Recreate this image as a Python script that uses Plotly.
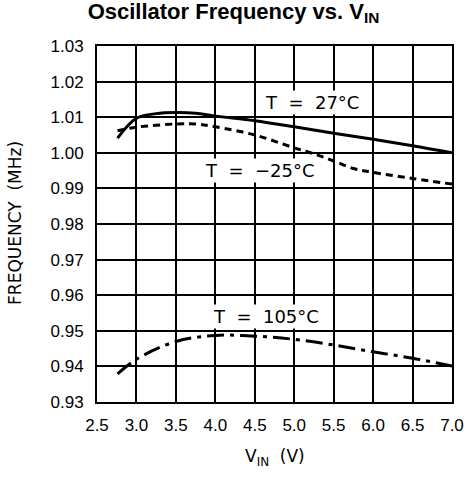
import plotly.graph_objects as go

# Data
v_27 = [2.76, 3.0, 3.25, 3.5, 3.75, 4.0, 4.5, 5.0, 5.5, 6.0, 6.5, 7.0]
f_27 = [1.0041, 1.0097, 1.0110, 1.0113, 1.0111, 1.0103, 1.0090, 1.0073, 1.0055, 1.0038, 1.0020, 1.0000]

v_m25 = [2.76, 3.0, 3.5, 3.75, 4.0, 4.5, 5.0, 5.25, 5.5, 5.75, 6.0, 6.5, 7.0]
f_m25 = [1.0062, 1.0072, 1.0081, 1.0081, 1.0073, 1.0050, 1.0014, 0.9997, 0.9977, 0.9956, 0.9945, 0.9928, 0.9912]

v_105 = [2.76, 3.0, 3.5, 4.0, 4.5, 5.0, 5.5, 6.0, 6.5, 7.0]
f_105 = [0.9379, 0.9420, 0.9470, 0.9487, 0.9485, 0.9476, 0.9460, 0.9441, 0.9423, 0.9401]

label_text = ["T\u00a0 =\u00a0 27°C", "T\u00a0 =\u00a0 −25°C", "T\u00a0 =\u00a0 105°C"]
label_x = [5.22, 4.57, 4.64]
label_y = [1.0141, 0.9950, 0.9540]

x_ticks = [2.5, 3.0, 3.5, 4.0, 4.5, 5.0, 5.5, 6.0, 6.5, 7.0]
y_ticks = [0.93, 0.94, 0.95, 0.96, 0.97, 0.98, 0.99, 1.00, 1.01, 1.02, 1.03]

fig = go.Figure()
fig.add_trace(go.Scatter(x=v_27, y=f_27, mode="lines",
                         line=dict(color="black", width=3, shape="spline"), showlegend=False))
fig.add_trace(go.Scatter(x=v_m25, y=f_m25, mode="lines",
                         line=dict(color="black", width=3, shape="spline", dash="7px,5px"), showlegend=False))
fig.add_trace(go.Scatter(x=v_105, y=f_105, mode="lines",
                         line=dict(color="black", width=3, shape="spline", dash="17px,6px,4px,6px"), showlegend=False))

for t, x, y in zip(label_text, label_x, label_y):
    fig.add_annotation(x=x, y=y, text=t, showarrow=False, bgcolor="white",
                       font=dict(family="DejaVu Sans", size=18, color="black"), borderpad=1)

# Axis titles as annotations
fig.add_annotation(xref="paper", yref="paper", x=0.5, y=-0.155, yanchor="middle", xanchor="center",
                   text="V<sub>IN</sub>\u00a0 (V)", showarrow=False,
                   font=dict(family="DejaVu Sans", size=17, color="black"))
fig.add_annotation(xref="paper", yref="paper", x=-0.231, y=0.503, xanchor="center", yanchor="middle",
                   text="FREQUENCY\u00a0 (MHz)", showarrow=False, textangle=-90,
                   font=dict(family="DejaVu Sans", size=17, color="black"))

axis_common = dict(showgrid=True, gridcolor="black", gridwidth=1.5, showline=True,
                   linecolor="black", linewidth=2, mirror=True, ticks="", zeroline=False,
                   automargin=False,
                   tickfont=dict(family="Liberation Sans", size=17, color="black"))

fig.update_xaxes(range=[2.5, 7.0], tickvals=x_ticks, tickformat=".1f", ticklabelstandoff=7,
                 **axis_common)
fig.update_yaxes(range=[0.93, 1.03], tickvals=y_ticks, tickformat=".2f", ticklabelstandoff=8,
                 **axis_common)

fig.update_layout(
    width=467, height=484,
    margin=dict(l=97, r=15, t=46, b=82, autoexpand=False),
    paper_bgcolor="white", plot_bgcolor="white",
    title=dict(text="<b>Oscillator Frequency vs. V<sub>IN</sub></b>", x=0.5, xanchor="center",
               y=0.993, yanchor="top",
               font=dict(family="Liberation Sans", size=22, color="black")),
)

fig.write_html("out.html", config={"displayModeBar": False},
               post_script="document.body.style.margin='0';")
